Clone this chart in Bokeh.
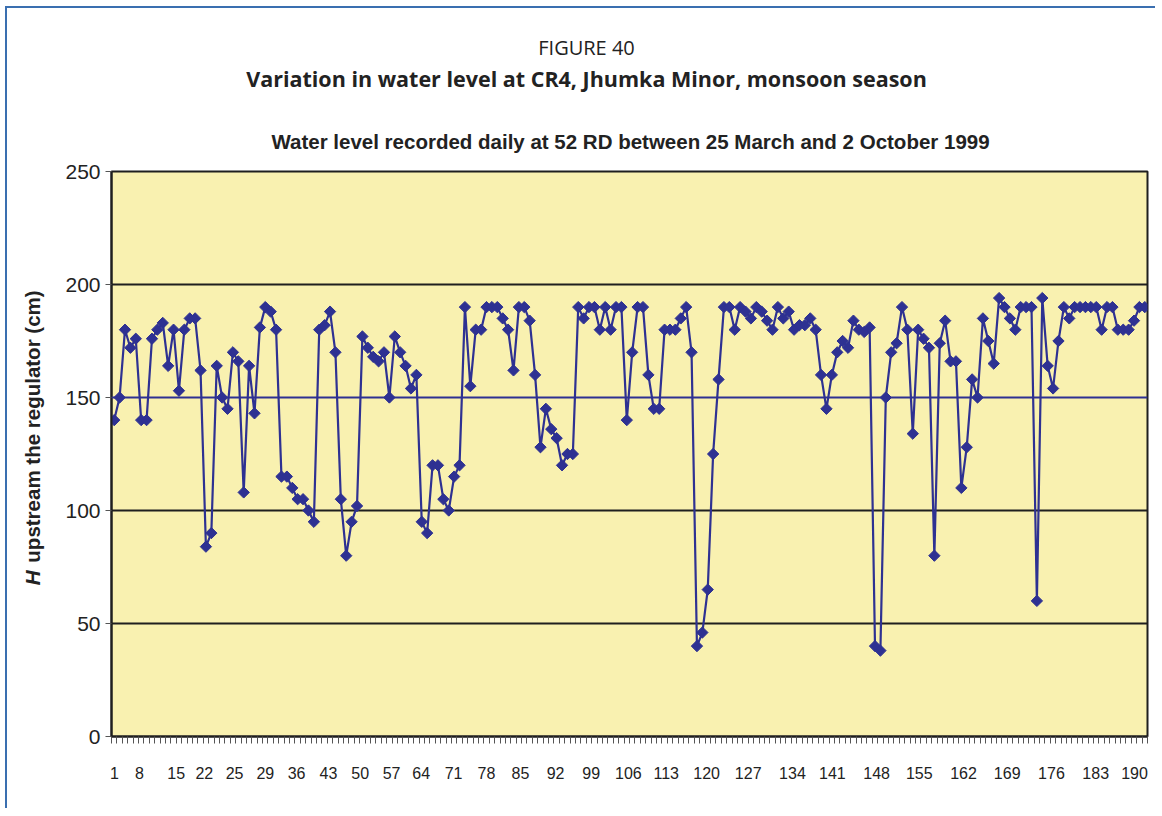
import numpy as np
from bokeh.plotting import figure
from bokeh.layouts import column, row
from bokeh.models import Range1d, FixedTicker, Span
from bokeh.core.properties import value
from bokeh.embed import file_html
from bokeh.resources import INLINE

# ---------------- data ----------------
water_level = [
    140, 150, 180, 172, 176, 140, 140, 176, 180, 183,
    164, 180, 153, 180, 185, 185, 162, 84, 90, 164,
    150, 145, 170, 166, 108, 164, 143, 181, 190, 188,
    180, 115, 115, 110, 105, 105, 100, 95, 180, 182,
    188, 170, 105, 80, 95, 102, 177, 172, 168, 166,
    170, 150, 177, 170, 164, 154, 160, 95, 90, 120,
    120, 105, 100, 115, 120, 190, 155, 180, 180, 190,
    190, 190, 185, 180, 162, 190, 190, 184, 160, 128,
    145, 136, 132, 120, 125, 125, 190, 185, 190, 190,
    180, 190, 180, 190, 190, 140, 170, 190, 190, 160,
    145, 145, 180, 180, 180, 185, 190, 170, 40, 46,
    65, 125, 158, 190, 190, 180, 190, 188, 185, 190,
    188, 184, 180, 190, 185, 188, 180, 182, 182, 185,
    180, 160, 145, 160, 170, 175, 172, 184, 180, 179,
    181, 40, 38, 150, 170, 174, 190, 180, 134, 180,
    176, 172, 80, 174, 184, 166, 166, 110, 128, 158,
    150, 185, 175, 165, 194, 190, 185, 180, 190, 190,
    190, 60, 194, 164, 154, 175, 190, 185, 190, 190,
    190, 190, 190, 180, 190, 190, 180, 180, 180, 184,
    190, 190,
]
days = list(range(1, len(water_level) + 1))
reference_level = 150
y_ticks = [0, 50, 100, 150, 200, 250]
grid_levels = [50, 100, 200]
x_tick_labels = ["1", "8", "15", "22", "25", "29", "36", "43", "50", "57",
                 "64", "71", "78", "85", "92", "99", "106", "113", "120",
                 "127", "134", "141", "148", "155", "162", "169", "176",
                 "183", "190"]
x_tick_positions = [1.06, 5.7, 12.5, 17.7, 23.3, 29.0, 34.8, 40.7, 46.6, 52.4,
                    57.9, 63.9, 70.0, 76.3, 82.8, 89.4, 96.3, 103.3, 110.8,
                    118.5, 126.7, 134.1, 142.3, 150.2, 158.4, 166.5, 174.7,
                    182.9, 190.1]

figure_no = "FIGURE 40"
title_text = "Variation in water level at CR4, Jhumka Minor, monsoon season"
subtitle_text = "Water level recorded daily at 52 RD between 25 March and 2 October 1999"
ylabel_italic = "H"
ylabel_rest = "upstream the regulator (cm)"

SERIES = "#2E3192"
FRAME_FILL = "#F9F1B0"
DARK = "#1f1f1f"
TEXT = "#222222"
SANS = "Liberation Sans"
HUMAN = "Open Sans"


def blank_fig(w, h):
    f = figure(width=w, height=h, output_backend="svg", toolbar_location=None,
               x_range=Range1d(0, w), y_range=Range1d(0, h),
               x_axis_type=None, y_axis_type=None,
               min_border=0, min_border_left=0, min_border_right=0,
               min_border_top=0, min_border_bottom=0)
    f.outline_line_color = None
    f.background_fill_color = "white"
    f.border_fill_color = "white"
    f.xgrid.visible = False
    f.ygrid.visible = False
    return f


# ---------- heading block ----------
TOP_W, TOP_H = 1148, 150
top = blank_fig(TOP_W, TOP_H)
top.text(x=[579], y=[TOP_H - 39], text=[figure_no], text_align="center",
         text_baseline="middle", text_font=value(HUMAN), text_font_size="20px",
         text_color=TEXT)
top.text(x=[579], y=[TOP_H - 70], text=[title_text], text_align="center",
         text_baseline="middle", text_font=value(HUMAN), text_font_style="bold",
         text_font_size="21.5px", text_color=TEXT)
top.text(x=[623], y=[TOP_H - 133], text=[subtitle_text], text_align="center",
         text_baseline="middle", text_font=value(SANS), text_font_style="bold",
         text_font_size="20.5px", text_color=TEXT)

# ---------- y-axis title block ----------
PLOT_H = 650
LAB_W = 50
lab = blank_fig(LAB_W, PLOT_H)
lab.text(x=[25], y=[174], text=[ylabel_italic], angle=np.pi / 2,
         text_align="left", text_baseline="middle", text_font=value(SANS),
         text_font_style="bold italic", text_font_size="20.5px", text_color=TEXT)
lab.text(x=[25], y=[200], text=[ylabel_rest], angle=np.pi / 2,
         text_align="left", text_baseline="middle", text_font=value(SANS),
         text_font_style="bold", text_font_size="20.5px", text_color=TEXT)

# ---------- main chart ----------
p = figure(width=TOP_W - LAB_W, height=PLOT_H, output_backend="svg",
           toolbar_location=None,
           x_range=Range1d(0.5, len(days) + 0.5), y_range=Range1d(0, 250),
           min_border_left=54, min_border_right=8, min_border_top=13,
           min_border_bottom=72, title=None)

p.background_fill_color = FRAME_FILL
p.border_fill_color = "white"
p.outline_line_color = DARK
p.outline_line_width = 2

p.xgrid.visible = False
p.ygrid.ticker = FixedTicker(ticks=grid_levels)
p.ygrid.grid_line_color = DARK
p.ygrid.grid_line_width = 2
p.add_layout(Span(location=reference_level, dimension="width",
                  line_color=SERIES, line_width=2))

p.line(days, water_level, line_color=SERIES, line_width=2.2)
p.scatter(days, water_level, marker="square", angle=np.pi / 4, size=8,
          fill_color=SERIES, line_color=SERIES, line_width=1)

ya = p.yaxis[0]
ya.ticker = FixedTicker(ticks=y_ticks)
ya.major_tick_out = 6
ya.major_tick_in = 0
ya.minor_tick_line_color = None
ya.major_tick_line_color = "#555555"
ya.axis_line_color = DARK
ya.axis_line_width = 2
ya.major_label_text_font = SANS
ya.major_label_text_font_size = "21px"
ya.major_label_text_color = TEXT
ya.major_label_standoff = 5

xa = p.xaxis[0]
xa.ticker = FixedTicker(ticks=x_tick_positions,
                        minor_ticks=list(np.arange(0.5, len(days) + 1, 1.0)))
xa.major_label_overrides = {pos: lab_ for pos, lab_ in zip(x_tick_positions, x_tick_labels)}
xa.major_tick_line_color = None
xa.major_tick_out = 0
xa.major_tick_in = 0
xa.minor_tick_out = 7
xa.minor_tick_in = 0
xa.minor_tick_line_color = "#555555"
xa.axis_line_color = DARK
xa.axis_line_width = 2
xa.major_label_text_font = SANS
xa.major_label_text_font_size = "16px"
xa.major_label_text_color = TEXT
xa.major_label_standoff = 23

layout = column(top, row(lab, p, spacing=0), spacing=0,
                styles={"margin-left": "5px", "margin-top": "6px",
                        "border-top": "2px solid #3A6FB0",
                        "border-left": "2px solid #3A6FB0"})

open("out.html", "w").write(file_html(layout, INLINE))
